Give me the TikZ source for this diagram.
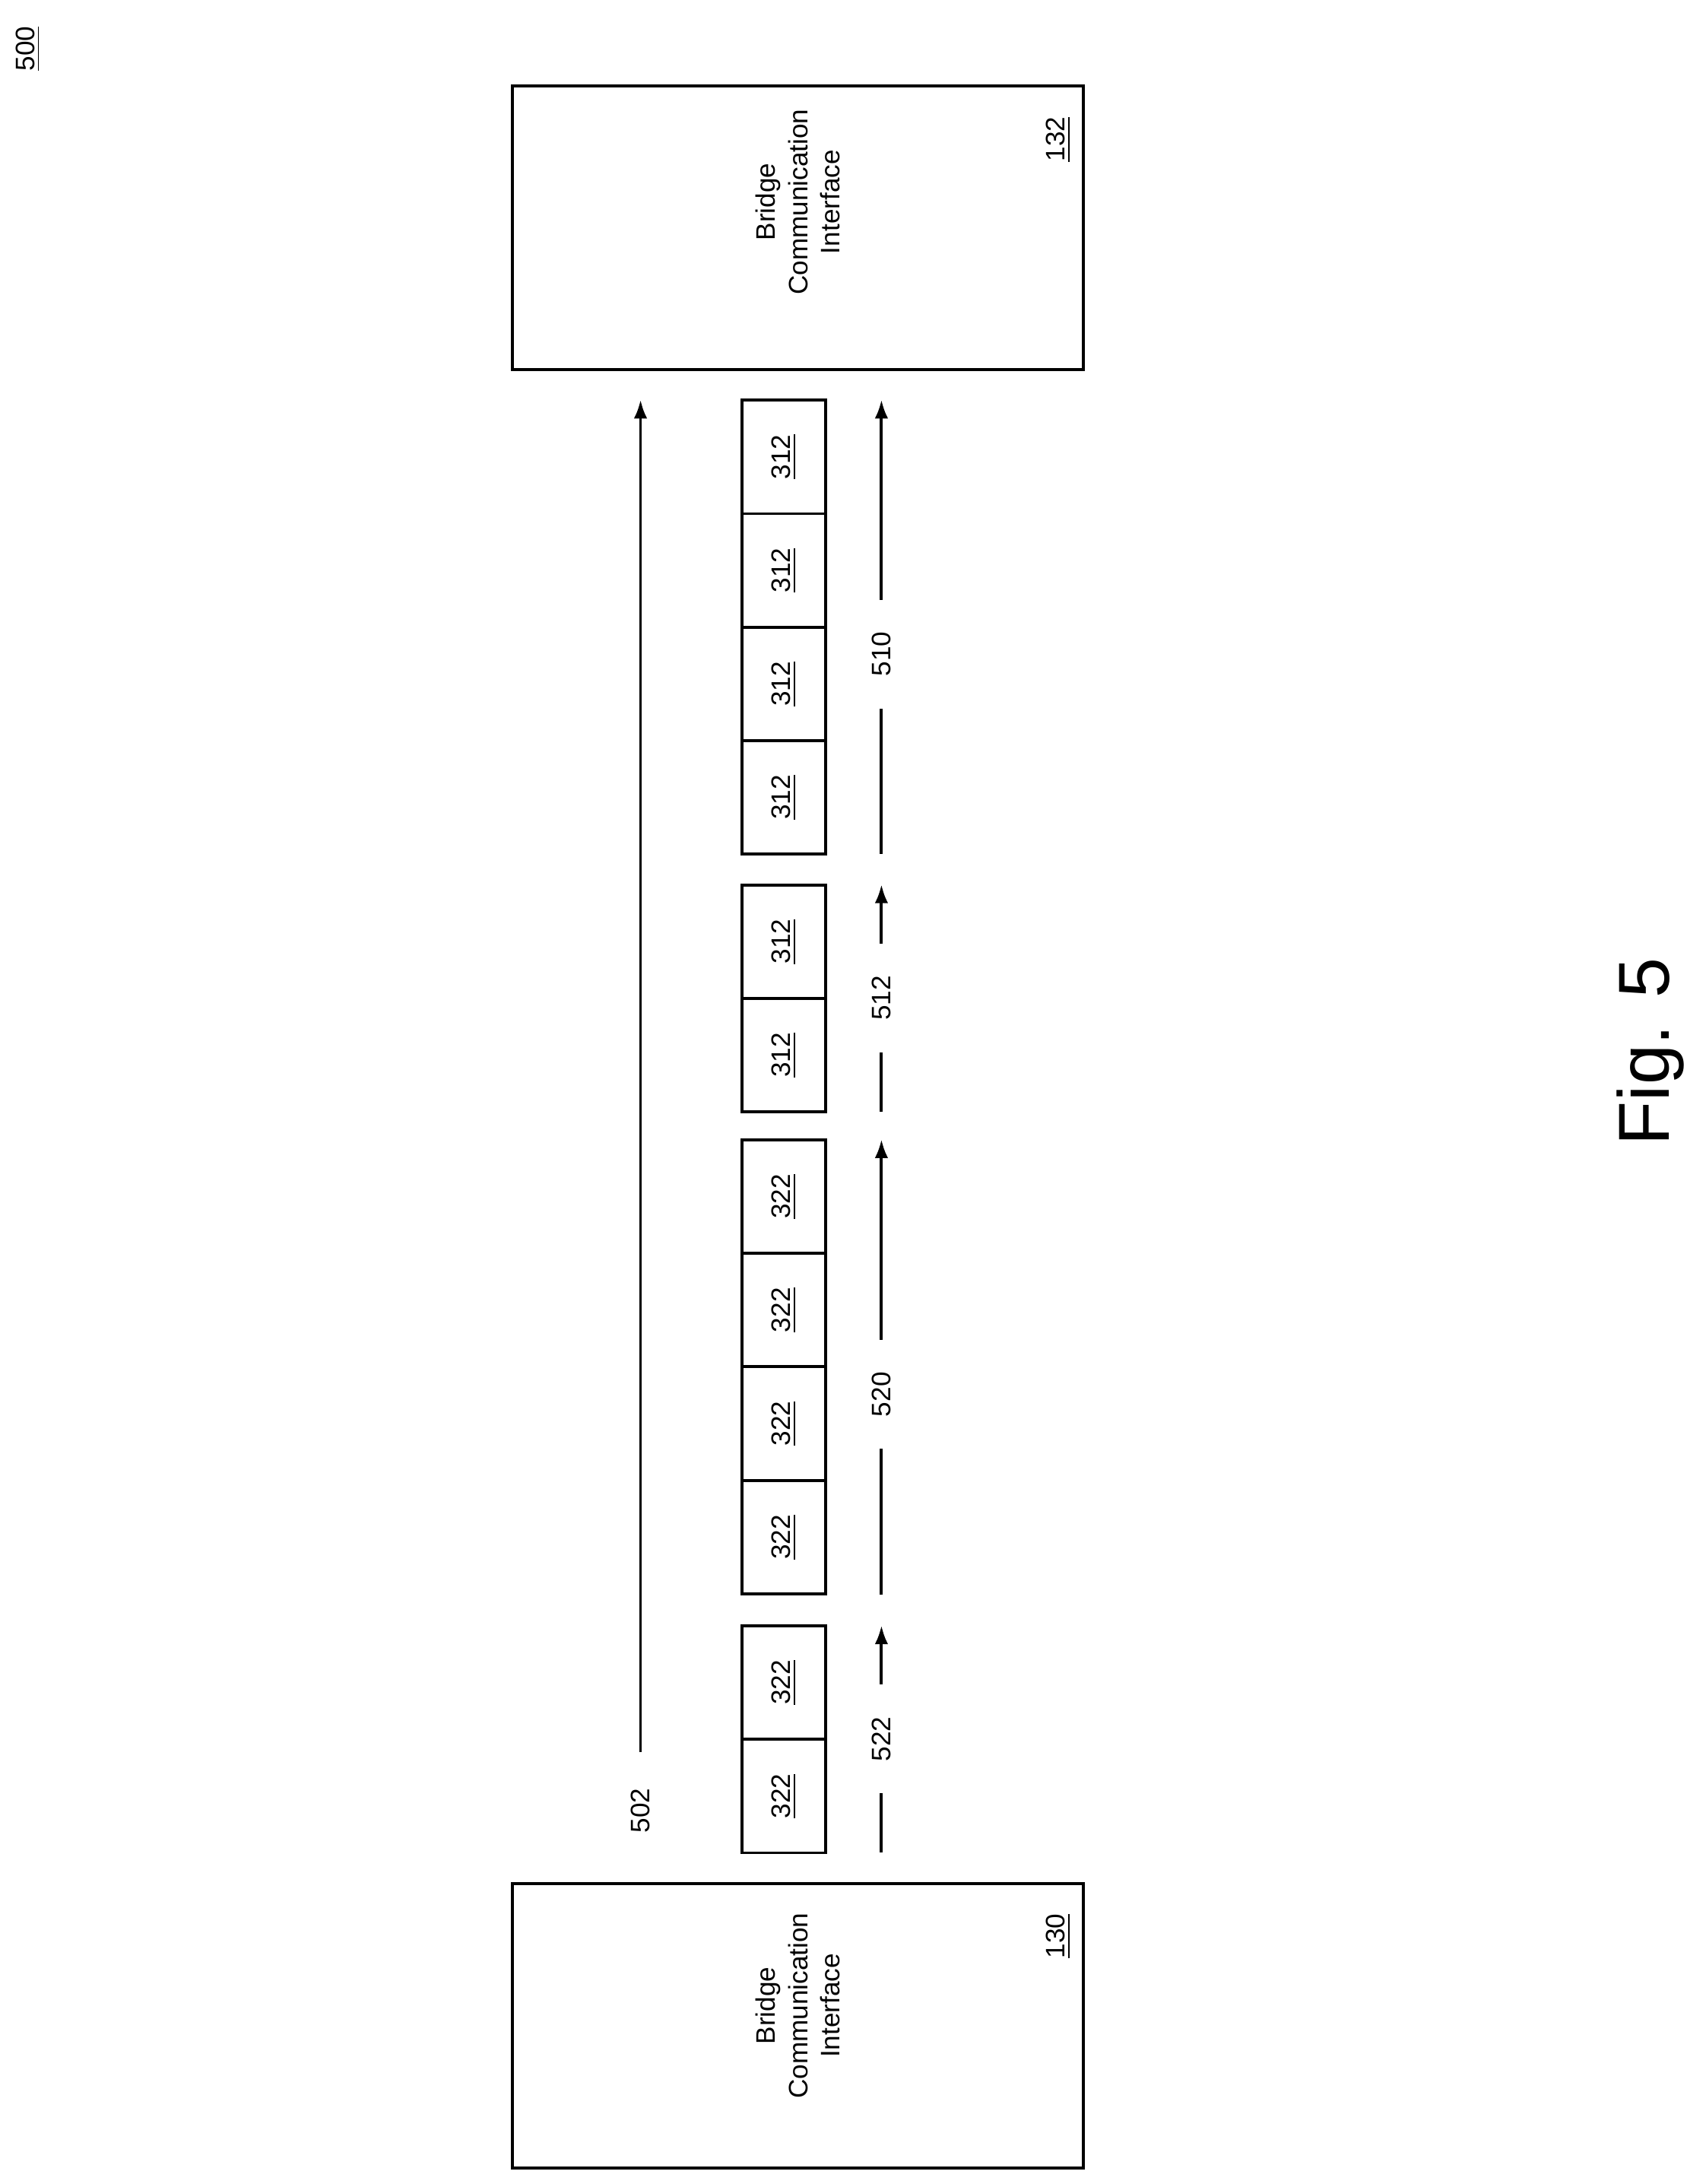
\documentclass[tikz,border=0pt]{standalone}
\usepackage{fontspec}
\setmainfont{Liberation Sans}
\usetikzlibrary{arrows.meta}
\newcommand{\unitpx}[0] {0.01831cm}
\tikzset{
  cell/.style={draw=black, line width=1.1pt, rotate=90, minimum width=81.5*\unitpx, minimum height=60*\unitpx, inner sep=0pt, font=\fontsize{10}{12}\selectfont},
  iface/.style={draw=black, line width=1.1pt, rotate=90, minimum width=204*\unitpx, minimum height=410*\unitpx, inner sep=0pt},
  lbl/.style={rotate=90, font=\fontsize{10}{12}\selectfont},
  flow/.style={-{Latex[length=7pt,width=5pt]}, line width=1.1pt}
}
\begin{document}
\begin{tikzpicture}[x=\unitpx, y=-\unitpx]
        \useasboundingbox (0,0) rectangle (1225,1568);
        \node[lbl] (fig) at (20,35) {\underline{500}};

        % interfaces
        \node[iface] (b132) at (573,163.5) {};
        \node[lbl, align=center] (t132) at (573,145) {Bridge\\Communication\\Interface};
        \node[lbl] (n132) at (760,100) {\underline{132}};
        \node[iface] (b130) at (573,1454.5) {};
        \node[lbl, align=center] (t130) at (573,1440) {Bridge\\Communication\\Interface};
        \node[lbl] (n130) at (760,1390) {\underline{130}};

        % cells
        \foreach \i in {0,...,3} \node[cell] (a\i) at (563,328+81.5*\i) {\underline{312}};
        \foreach \i in {0,1} \node[cell] (b\i) at (563,676+81.5*\i) {\underline{312}};
        \foreach \i in {0,...,3} \node[cell] (c\i) at (563,859+81.5*\i) {\underline{322}};
        \foreach \i in {0,1} \node[cell] (d\i) at (563,1208+81.5*\i) {\underline{322}};

        % arrows
        \coordinate (s502) at (460,1258);
        \coordinate (e502) at (460,287);
        \draw[flow] (s502) -- (e502);
        \node[lbl] (l502) at (460,1300) {502};

        \coordinate (s510) at (633,613);  \coordinate (e510) at (633,287);
        \coordinate (s512) at (633,798);  \coordinate (e512) at (633,635);
        \coordinate (s520) at (633,1145); \coordinate (e520) at (633,818);
        \coordinate (s522) at (633,1330); \coordinate (e522) at (633,1167);
        \draw[flow] (s510) -- node[lbl, fill=white, inner xsep=12pt, pos=0.44] (l510) {510} (e510);
        \draw[flow] (s512) -- node[lbl, fill=white, inner xsep=12pt] (l512) {512} (e512);
        \draw[flow] (s520) -- node[lbl, fill=white, inner xsep=12pt, pos=0.44] (l520) {520} (e520);
        \draw[flow] (s522) -- node[lbl, fill=white, inner xsep=12pt] (l522) {522} (e522);

        \node[rotate=90, font=\fontsize{27}{30}\selectfont] (cap) at (1185,755) {Fig. 5};
\end{tikzpicture}
\end{document}
